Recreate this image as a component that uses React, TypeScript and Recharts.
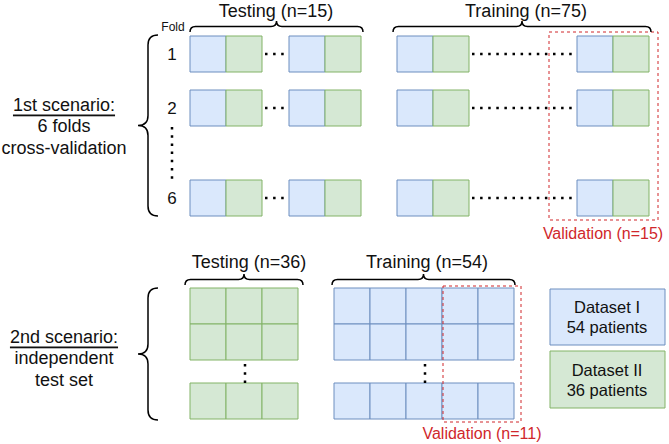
import React from "react";
import {
  ComposedChart,
  XAxis,
  YAxis,
  ReferenceArea,
  ReferenceDot,
  ReferenceLine,
} from "recharts";

// values shown in the figure
const folds = ["1", "2", "6"];
const scenario1 = [
  { name: "Testing", n: 15 },
  { name: "Training", n: 75 },
];
const scenario2 = [
  { name: "Testing", n: 36 },
  { name: "Training", n: 54 },
];
const validationN = [15, 11];
const datasets = [
  { name: "Dataset I", patients: 54 },
  { name: "Dataset II", patients: 36 },
];
const scenarioText = [
  ["1st scenario:", "6 folds", "cross-validation"],
  ["2nd scenario:", "independent", "test set"],
];

// layout (axis units = px)
const W = 669;
const H = 444;
const CELL = 36;
const foldTops = [36, 90, 180];
const pairStarts = [190, 289, 397, 577];
const gridTops = [288, 324, 383];
const grids = [
  { x0: 190, cols: 3, kind: "green" },
  { x0: 334, cols: 5, kind: "blue" },
];

const FONT = "'Liberation Sans', Arial, Helvetica, sans-serif";
const RED = "#d0272b";
const COLORS: Record<string, { fill: string; stroke: string }> = {
  blue: { fill: "#dae8fc", stroke: "#6c8ebf" },
  green: { fill: "#d5e8d4", stroke: "#82b366" },
};

type Cell = { x1: number; x2: number; y1: number; y2: number; kind: string };

const cells: Cell[] = [];
foldTops.forEach((top) => {
  pairStarts.forEach((x) => {
    cells.push({ x1: x, x2: x + CELL, y1: top, y2: top + CELL, kind: "blue" });
    cells.push({ x1: x + CELL, x2: x + 2 * CELL, y1: top, y2: top + CELL, kind: "green" });
  });
});
grids.forEach((g) => {
  gridTops.forEach((top) => {
    for (let c = 0; c < g.cols; c++) {
      const x = g.x0 + c * CELL;
      cells.push({ x1: x, x2: x + CELL, y1: top, y2: top + CELL, kind: g.kind });
    }
  });
});

const hBraces = [
  { x1: 190, x2: 363, y1: 21, y2: 32 },
  { x1: 393, x2: 651, y1: 21, y2: 32 },
  { x1: 185, x2: 303, y1: 274, y2: 285 },
  { x1: 332, x2: 515, y1: 274, y2: 285 },
];
const vBraces = [
  { x1: 138, x2: 158, y1: 35, y2: 216 },
  { x1: 138, x2: 158, y1: 288, y2: 420 },
];

const titles = [
  { text: `${scenario1[0].name} (n=${scenario1[0].n})`, x: 276, y: 11 },
  { text: `${scenario1[1].name} (n=${scenario1[1].n})`, x: 526, y: 11 },
  { text: `${scenario2[0].name} (n=${scenario2[0].n})`, x: 249, y: 262 },
  { text: `${scenario2[1].name} (n=${scenario2[1].n})`, x: 427, y: 262 },
];

const validBoxes = [
  { x1: 549, x2: 658, y1: 32, y2: 220, label: { x: 603, y: 233 } },
  { x1: 443, x2: 521, y1: 286, y2: 422, label: { x: 482, y: 433 } },
];

const hDots = [
  ...foldTops.map((t) => ({ x1: 265, x2: 289, y: t + CELL / 2 })),
  ...foldTops.map((t) => ({ x1: 472, x2: 577, y: t + CELL / 2 })),
];
const vDots = [
  { x: 172, y1: 127, y2: 182 },
  { x: 245, y1: 364, y2: 385 },
  { x: 425, y1: 364, y2: 385 },
];

const legendBoxes = [
  { x1: 550, x2: 665, y1: 289, y2: 345, kind: "blue" },
  { x1: 550, x2: 665, y1: 351, y2: 408, kind: "green" },
];

function hBracePath(x: number, y: number, w: number, h: number) {
  const m = y + h / 2;
  const cx = x + w / 2;
  const r = h / 2;
  return `M${x},${y + h} Q${x},${m} ${x + r},${m} L${cx - r},${m} Q${cx},${m} ${cx},${y} Q${cx},${m} ${cx + r},${m} L${x + w - r},${m} Q${x + w},${m} ${x + w},${y + h}`;
}

function vBracePath(x: number, y: number, w: number, h: number) {
  const a = x + w / 2;
  const cy = y + h / 2;
  const r = w / 2;
  return `M${x + w},${y} Q${a},${y} ${a},${y + r} L${a},${cy - r} Q${a},${cy} ${x},${cy} Q${a},${cy} ${a},${cy + r} L${a},${y + h - r} Q${a},${y + h} ${x + w},${y + h}`;
}

function Lines({
  cx,
  cy,
  lines,
  size,
  color = "#111",
  lh = 21,
  underlineFirst = false,
}: any) {
  const y0 = cy - ((lines.length - 1) * lh) / 2;
  return (
    <text
      x={cx}
      y={y0}
      textAnchor="middle"
      dominantBaseline="central"
      fontFamily={FONT}
      fontSize={size}
      fill={color}
    >
      {lines.map((l: string, i: number) => (
        <tspan
          key={i}
          x={cx}
          y={y0 + i * lh}
          style={underlineFirst && i === 0 ? { textDecoration: "underline" } : undefined}
        >
          {l}
        </tspan>
      ))}
    </text>
  );
}

export default function App() {
  return (
    <div style={{ position: "absolute", left: 0, top: 0, width: W, height: H, background: "#fff" }}>
      <ComposedChart width={W} height={H} margin={{ top: 0, right: 0, bottom: 0, left: 0 }}>
        <XAxis type="number" dataKey="x" domain={[0, W]} hide allowDataOverflow />
        <YAxis type="number" dataKey="y" domain={[0, H]} reversed hide allowDataOverflow />

        {cells.map((c, i) => (
          <ReferenceArea
            key={`c${i}`}
            x1={c.x1}
            x2={c.x2}
            y1={c.y1}
            y2={c.y2}
            fill={COLORS[c.kind].fill}
            fillOpacity={1}
            stroke={COLORS[c.kind].stroke}
            strokeWidth={1}
            ifOverflow="visible"
          />
        ))}

        {legendBoxes.map((b, i) => (
          <ReferenceArea
            key={`lb${i}`}
            x1={b.x1}
            x2={b.x2}
            y1={b.y1}
            y2={b.y2}
            fill={COLORS[b.kind].fill}
            fillOpacity={1}
            stroke={COLORS[b.kind].stroke}
            ifOverflow="visible"
          />
        ))}

        {validBoxes.map((b, i) => (
          <ReferenceArea
            key={`vb${i}`}
            x1={b.x1}
            x2={b.x2}
            y1={b.y1}
            y2={b.y2}
            fill="none"
            fillOpacity={0}
            stroke={RED}
            strokeDasharray="3 3"
            ifOverflow="visible"
          />
        ))}

        {hDots.map((d, i) => (
          <ReferenceLine
            key={`hd${i}`}
            segment={[
              { x: d.x1, y: d.y },
              { x: d.x2, y: d.y },
            ]}
            stroke="#000"
            strokeWidth={2.5}
            strokeDasharray="2.5 5.6"
            ifOverflow="visible"
          />
        ))}
        {vDots.map((d, i) => (
          <ReferenceLine
            key={`vd${i}`}
            segment={[
              { x: d.x, y: d.y1 },
              { x: d.x, y: d.y2 },
            ]}
            stroke="#000"
            strokeWidth={2.5}
            strokeDasharray="2.5 5.7"
            ifOverflow="visible"
          />
        ))}

        {hBraces.map((b, i) => (
          <ReferenceArea
            key={`hb${i}`}
            x1={b.x1}
            x2={b.x2}
            y1={b.y1}
            y2={b.y2}
            ifOverflow="visible"
            shape={(p: any) => (
              <path d={hBracePath(p.x, p.y, p.width, p.height)} fill="none" stroke="#000" strokeWidth={1.5} />
            )}
          />
        ))}
        {vBraces.map((b, i) => (
          <ReferenceArea
            key={`vbr${i}`}
            x1={b.x1}
            x2={b.x2}
            y1={b.y1}
            y2={b.y2}
            ifOverflow="visible"
            shape={(p: any) => (
              <path d={vBracePath(p.x, p.y, p.width, p.height)} fill="none" stroke="#000" strokeWidth={1.5} />
            )}
          />
        ))}

        {titles.map((t, i) => (
          <ReferenceDot
            key={`t${i}`}
            x={t.x}
            y={t.y}
            ifOverflow="visible"
            shape={(p: any) => <Lines cx={p.cx} cy={p.cy} lines={[t.text]} size={18} />}
          />
        ))}

        <ReferenceDot
          x={173}
          y={27}
          ifOverflow="visible"
          shape={(p: any) => <Lines cx={p.cx} cy={p.cy} lines={["Fold"]} size={12} />}
        />
        {folds.map((f, i) => (
          <ReferenceDot
            key={`f${i}`}
            x={172}
            y={foldTops[i] + CELL / 2}
            ifOverflow="visible"
            shape={(p: any) => <Lines cx={p.cx} cy={p.cy} lines={[f]} size={17} />}
          />
        ))}

        {scenarioText.map((s, i) => (
          <ReferenceDot
            key={`s${i}`}
            x={64}
            y={i === 0 ? 126 : 358}
            ifOverflow="visible"
            shape={(p: any) => <Lines cx={p.cx} cy={p.cy} lines={s} size={18} lh={21.5} underlineFirst />}
          />
        ))}

        {validBoxes.map((b, i) => (
          <ReferenceDot
            key={`vl${i}`}
            x={b.label.x}
            y={b.label.y}
            ifOverflow="visible"
            shape={(p: any) => (
              <Lines cx={p.cx} cy={p.cy} lines={[`Validation (n=${validationN[i]})`]} size={16} color={RED} />
            )}
          />
        ))}

        {datasets.map((d, i) => (
          <ReferenceDot
            key={`d${i}`}
            x={607}
            y={(legendBoxes[i].y1 + legendBoxes[i].y2) / 2}
            ifOverflow="visible"
            shape={(p: any) => (
              <Lines cx={p.cx} cy={p.cy} lines={[d.name, `${d.patients} patients`]} size={16.5} lh={20} />
            )}
          />
        ))}
      </ComposedChart>
    </div>
  );
}
